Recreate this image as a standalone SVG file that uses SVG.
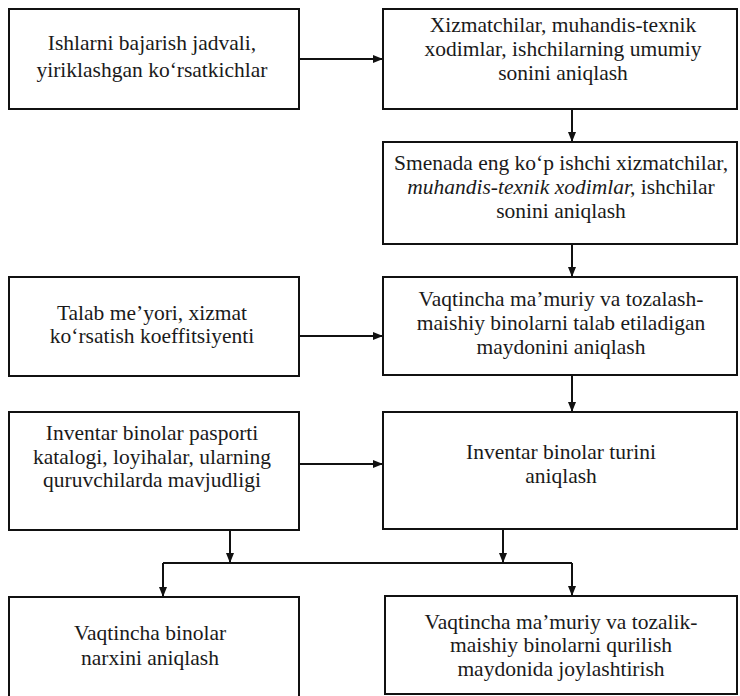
<svg xmlns="http://www.w3.org/2000/svg" width="740" height="696" viewBox="0 0 740 696">
<style>
.box{fill:#fff;stroke:#111;stroke-width:2}
.t{font-family:"Liberation Serif","Times New Roman",serif;font-size:21.5px;fill:#1a1a1a;text-anchor:middle}
.it{font-style:italic}
.c{fill:none;stroke:#111;stroke-width:2}
</style>
<defs>
<marker id="ah" viewBox="0 0 10 10" refX="10" refY="5" markerWidth="5" markerHeight="5" orient="auto" markerUnits="strokeWidth">
<path d="M0,1 L10,5 L0,9 Z" fill="#111"/>
</marker>
</defs>
<rect width="740" height="696" fill="#fff"/>
<g id="connectors">
<line class="c" x1="299" y1="59" x2="383" y2="59" marker-end="url(#ah)"/>
<line class="c" x1="572" y1="109" x2="572" y2="142" marker-end="url(#ah)"/>
<line class="c" x1="572" y1="244" x2="572" y2="277" marker-end="url(#ah)"/>
<line class="c" x1="299" y1="336" x2="383" y2="336" marker-end="url(#ah)"/>
<line class="c" x1="572" y1="375" x2="572" y2="412" marker-end="url(#ah)"/>
<line class="c" x1="299" y1="464" x2="383" y2="464" marker-end="url(#ah)"/>
<line class="c" x1="230" y1="530" x2="230" y2="563" marker-end="url(#ah)"/>
<line class="c" x1="503" y1="529" x2="503" y2="563" marker-end="url(#ah)"/>
<line class="c" x1="163" y1="563" x2="572" y2="563"/>
<line class="c" x1="163" y1="563" x2="163" y2="597" marker-end="url(#ah)"/>
<line class="c" x1="572" y1="563" x2="572" y2="596" marker-end="url(#ah)"/>
</g>
<g id="n1">
<rect class="box" x="9" y="9" width="290" height="100"/>
<text class="t" x="152" y="50">Ishlarni bajarish jadvali,</text>
<text class="t" x="152" y="77">yiriklashgan ko‘rsatkichlar</text>
</g>
<g id="n2">
<rect class="box" x="383" y="9" width="354" height="100"/>
<text class="t" x="563" y="32">Xizmatchilar, muhandis-texnik</text>
<text class="t" x="563" y="56">xodimlar, ishchilarning umumiy</text>
<text class="t" x="563" y="80">sonini aniqlash</text>
</g>
<g id="n3">
<rect class="box" x="383" y="142" width="354" height="102"/>
<text class="t" x="561" y="170">Smenada eng ko‘p ishchi xizmatchilar,</text>
<text class="t" x="561" y="194"><tspan class="it">muhandis-texnik xodimlar,</tspan> ishchilar</text>
<text class="t" x="561" y="218">sonini aniqlash</text>
</g>
<g id="n4">
<rect class="box" x="9" y="277" width="290" height="99"/>
<text class="t" x="152" y="320">Talab me’yori, xizmat</text>
<text class="t" x="152" y="343">ko‘rsatish koeffitsiyenti</text>
</g>
<g id="n5">
<rect class="box" x="383" y="277" width="354" height="98"/>
<text class="t" x="561" y="306">Vaqtincha ma’muriy va tozalash-</text>
<text class="t" x="561" y="330">maishiy binolarni talab etiladigan</text>
<text class="t" x="561" y="354">maydonini aniqlash</text>
</g>
<g id="n6">
<rect class="box" x="9" y="412" width="290" height="118"/>
<text class="t" x="152" y="440">Inventar binolar pasporti</text>
<text class="t" x="152" y="464">katalogi, loyihalar, ularning</text>
<text class="t" x="152" y="487">quruvchilarda mavjudligi</text>
</g>
<g id="n7">
<rect class="box" x="383" y="412" width="354" height="117"/>
<text class="t" x="561" y="459">Inventar binolar turini</text>
<text class="t" x="561" y="483">aniqlash</text>
</g>
<g id="n8">
<rect class="box" x="9" y="597" width="290" height="102"/>
<text class="t" x="150" y="640">Vaqtincha binolar</text>
<text class="t" x="150" y="665">narxini aniqlash</text>
</g>
<g id="n9">
<rect class="box" x="385" y="596" width="352" height="98"/>
<text class="t" x="561" y="629">Vaqtincha ma’muriy va tozalik-</text>
<text class="t" x="561" y="652">maishiy binolarni qurilish</text>
<text class="t" x="561" y="676">maydonida joylashtirish</text>
</g>
</svg>
